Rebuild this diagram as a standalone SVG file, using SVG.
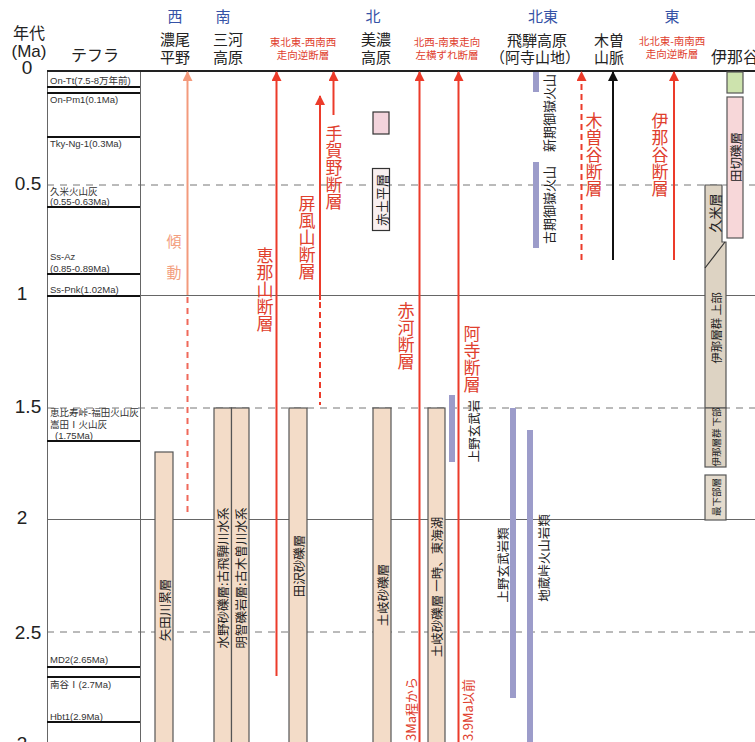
<svg xmlns="http://www.w3.org/2000/svg" width="755" height="742" viewBox="0 0 755 742">
  <style>
    .jp { font-family: "Noto Sans CJK JP", "Noto Sans", sans-serif; }
    .hd { font-family: "Noto Sans CJK JP", sans-serif; font-size: 15px; fill: #222; text-anchor: middle; }
    .dir { font-family: "Noto Sans CJK JP", sans-serif; font-size: 15px; fill: #3552a6; text-anchor: middle; }
    .rs { font-family: "Noto Sans CJK JP", sans-serif; font-size: 10.5px; fill: #e0402e; text-anchor: middle; }
    .ax { font-family: "Liberation Sans", "Noto Sans", sans-serif; font-size: 19px; fill: #222; text-anchor: middle; }
    .tp { font-family: "Liberation Sans", "Noto Sans CJK JP", sans-serif; font-size: 9.5px; fill: #333; }
    .tl { stroke: #111; stroke-width: 2.2; }
    .grid { stroke: #666; stroke-width: 1; fill: none; }
    .dash { stroke: #777; stroke-width: 1; stroke-dasharray: 7 6; fill: none; }
    .fm { fill: #f3dcc8; stroke: #555; stroke-width: 1.2; }
    .fl { font-family: "Noto Sans CJK JP", sans-serif; font-size: 12.5px; fill: #222; text-anchor: middle; dominant-baseline: central; }
    .vl { font-family: "Noto Sans CJK JP", sans-serif; font-size: 17px; fill: #e0402e; writing-mode: vertical-rl; }
    .red { stroke: #ec3b2a; stroke-width: 2; fill: none; }
    .redd { stroke: #ec3b2a; stroke-width: 2; stroke-dasharray: 6 4; fill: none; }
    .vol { stroke: #9c9cca; stroke-width: 6; }
  </style>
  <defs>
    <marker id="ah-red" viewBox="0 0 10 10" refX="9" refY="5" markerWidth="10" markerHeight="10" markerUnits="userSpaceOnUse" orient="auto">
      <path d="M0,0 L10,5 L0,10 z" fill="#ec3b2a"/>
    </marker>
    <marker id="ah-salmon" viewBox="0 0 10 10" refX="9" refY="5" markerWidth="10" markerHeight="10" markerUnits="userSpaceOnUse" orient="auto">
      <path d="M0,0 L10,5 L0,10 z" fill="#f39a7c"/>
    </marker>
    <marker id="ah-black" viewBox="0 0 10 10" refX="9" refY="5" markerWidth="10" markerHeight="10" markerUnits="userSpaceOnUse" orient="auto">
      <path d="M0,0 L10,5 L0,10 z" fill="#111"/>
    </marker>
  </defs>

  <rect width="755" height="742" fill="#fff"/>

  <!-- column headings -->
  <g id="headings">
    <text class="hd" x="29" y="39" style="font-size:16px">年代</text>
    <text class="ax" x="29" y="57" style="font-size:17px">(Ma)</text>
    <text class="hd" x="95" y="61" style="font-size:16px">テフラ</text>
    <text class="dir" x="175" y="22">西</text>
    <text class="hd" x="175" y="45">濃尾</text>
    <text class="hd" x="175" y="63">平野</text>
    <text class="dir" x="223" y="22">南</text>
    <text class="hd" x="228" y="45">三河</text>
    <text class="hd" x="228" y="63">高原</text>
    <text class="rs" x="303" y="46">東北東-西南西</text>
    <text class="rs" x="303" y="59">走向逆断層</text>
    <text class="dir" x="373" y="22">北</text>
    <text class="hd" x="376" y="45">美濃</text>
    <text class="hd" x="376" y="63">高原</text>
    <text class="rs" x="447" y="46">北西-南東走向</text>
    <text class="rs" x="447" y="59">左横ずれ断層</text>
    <text class="dir" x="543" y="22">北東</text>
    <text class="hd" x="537" y="46">飛騨高原</text>
    <text class="hd" x="535" y="63">（阿寺山地）</text>
    <text class="hd" x="609" y="46">木曽</text>
    <text class="hd" x="609" y="63">山脈</text>
    <text class="dir" x="672" y="22">東</text>
    <text class="rs" x="672" y="45">北北東-南南西</text>
    <text class="rs" x="672" y="58">走向逆断層</text>
    <text class="hd" x="711" y="63" style="text-anchor:start;font-size:16px">伊那谷</text>
  </g>

  <!-- age axis -->
  <g id="age-axis">
    <text class="ax" x="27" y="74">0</text>
    <text class="ax" x="28" y="190">0.5</text>
    <text class="ax" x="22" y="300">1</text>
    <text class="ax" x="28" y="413">1.5</text>
    <text class="ax" x="22" y="524">2</text>
    <text class="ax" x="28" y="639">2.5</text>
    <text class="ax" x="22" y="750">3</text>
  </g>

  <!-- time grid -->
  <g id="grid">
    <line class="dash" x1="47" y1="185" x2="755" y2="185"/>
    <line class="grid" x1="47" y1="295.5" x2="755" y2="295.5"/>
    <line class="dash" x1="47" y1="408" x2="755" y2="408"/>
    <line class="grid" x1="47" y1="519.5" x2="755" y2="519.5"/>
    <line class="dash" x1="47" y1="632" x2="755" y2="632"/>
    <line class="grid" x1="47.5" y1="71" x2="47.5" y2="742"/>
    <line class="grid" x1="140.5" y1="71" x2="140.5" y2="742"/>
    <line x1="47" y1="71" x2="755" y2="71" stroke="#222" stroke-width="2"/>
  </g>

  <!-- tephra column -->
  <g id="tephra">
    <text class="tp" x="50" y="84">On-Tt(7.5-8万年前)</text>
    <line class="tl" x1="47" y1="87" x2="140" y2="87"/>
    <line class="tl" x1="47" y1="93" x2="140" y2="93"/>
    <text class="tp" x="50" y="103">On-Pm1(0.1Ma)</text>
    <line class="tl" x1="47" y1="137" x2="140" y2="137"/>
    <text class="tp" x="50" y="147">Tky-Ng-1(0.3Ma)</text>
    <text class="tp" x="50" y="195">久米火山灰</text>
    <text class="tp" x="50" y="205">(0.55-0.63Ma)</text>
    <line class="tl" x1="47" y1="207" x2="140" y2="207"/>
    <text class="tp" x="50" y="260">Ss-Az</text>
    <text class="tp" x="50" y="272">(0.85-0.89Ma)</text>
    <line class="tl" x1="47" y1="274" x2="140" y2="274"/>
    <text class="tp" x="50" y="293">Ss-Pnk(1.02Ma)</text>
    <line class="tl" x1="47" y1="296" x2="140" y2="296"/>
    <text class="tp" x="50" y="416">恵比寿峠-福田火山灰</text>
    <text class="tp" x="50" y="428">嵩田Ⅰ火山灰</text>
    <text class="tp" x="55" y="439">(1.75Ma)</text>
    <line class="tl" x1="47" y1="441" x2="140" y2="441"/>
    <text class="tp" x="50" y="663">MD2(2.65Ma)</text>
    <line class="tl" x1="47" y1="667" x2="140" y2="667"/>
    <line class="tl" x1="47" y1="677" x2="140" y2="677"/>
    <text class="tp" x="50" y="688">南谷Ⅰ(2.7Ma)</text>
    <text class="tp" x="50" y="720">Hbt1(2.9Ma)</text>
    <line class="tl" x1="47" y1="722" x2="140" y2="722"/>
  </g>

  <!-- gravel formations -->
  <g id="yadagawa">
    <rect class="fm" x="155" y="452" width="18" height="300"/>
    <text class="fl" transform="translate(164,610) rotate(-90)">矢田川累層</text>
  </g>
  <g id="mizuno">
    <rect class="fm" x="214" y="408" width="17.5" height="340"/>
    <text class="fl" transform="translate(222.8,578) rotate(-90)">水野砂礫層:古飛騨川水系</text>
  </g>
  <g id="akechi">
    <rect class="fm" x="231.5" y="408" width="17.5" height="340"/>
    <text class="fl" transform="translate(240.3,578) rotate(-90)">明智礫岩層:古木曽川水系</text>
  </g>
  <g id="tazawa">
    <rect class="fm" x="289" y="408" width="18" height="340"/>
    <text class="fl" transform="translate(298,566) rotate(-90)">田沢砂礫層</text>
  </g>
  <g id="toki-1">
    <rect class="fm" x="373" y="408" width="18" height="340"/>
    <text class="fl" transform="translate(382,595) rotate(-90)">土岐砂礫層</text>
  </g>
  <g id="toki-2">
    <rect class="fm" x="428" y="408" width="17" height="340"/>
    <text class="fl" transform="translate(436.5,587) rotate(-90)">土岐砂礫層 一時、東海湖</text>
  </g>

  <!-- Mino plateau units -->
  <g id="mino-box">
    <rect x="373" y="112" width="16" height="22" fill="#f3d4dc" stroke="#333" stroke-width="1.2"/>
  </g>
  <g id="akadotaira">
    <rect x="372.5" y="168.5" width="17" height="62" fill="#f9f0f0" stroke="#333" stroke-width="1.2"/>
    <text class="fl" style="font-size:13px" transform="translate(381,200) rotate(-90)">赤土平層</text>
  </g>

  <!-- volcanic rocks -->
  <g id="shinki-ontake">
    <line class="vol" x1="536" y1="72" x2="536" y2="92"/>
    <text class="fl" style="font-size:13px" transform="translate(548,113) rotate(-90)">新期御嶽火山</text>
  </g>
  <g id="koki-ontake">
    <line class="vol" x1="536" y1="162" x2="536" y2="248"/>
    <text class="fl" style="font-size:13px" transform="translate(548,205) rotate(-90)">古期御嶽火山</text>
  </g>
  <g id="ueno-basalt">
    <line class="vol" x1="452" y1="395" x2="452" y2="462"/>
    <text class="fl" transform="translate(473,431) rotate(-90)">上野玄武岩</text>
  </g>
  <g id="ueno-basalts">
    <line class="vol" x1="513" y1="408" x2="513" y2="698"/>
    <text class="fl" transform="translate(502,565) rotate(-90)">上野玄武岩類</text>
  </g>
  <g id="jizotoge">
    <line class="vol" x1="530" y1="430" x2="530" y2="742"/>
    <text class="fl" transform="translate(543,558) rotate(-90)">地蔵峠火山岩類</text>
  </g>

  <!-- Ina valley column -->
  <g id="ina-top">
    <rect x="727" y="72" width="16" height="21" fill="#cde3ad" stroke="#555" stroke-width="1.2"/>
  </g>
  <g id="tagiri">
    <rect x="727" y="97" width="16" height="141" fill="#f7d7d9" stroke="#555" stroke-width="1.2"/>
    <text class="fl" transform="translate(735,157) rotate(-90)">田切礫層</text>
  </g>
  <g id="ina-upper">
    <path d="M705,185 H722 V242 H726 V408 H705 Z" fill="#ddd3c3" stroke="#555" stroke-width="1.2"/>
    <line x1="725" y1="242" x2="705" y2="268" stroke="#333" stroke-width="1.2"/>
    <text class="fl" style="font-size:13px" transform="translate(714,213) rotate(-90)">久米層</text>
    <text class="fl" style="font-size:11.5px" transform="translate(715.5,328) rotate(-90)">伊那層群 上部</text>
  </g>
  <g id="ina-lower">
    <rect x="705" y="408" width="21" height="59" fill="#ddd3c3" stroke="#555" stroke-width="1.2"/>
    <text class="fl" style="font-size:9.5px" transform="translate(715.5,437) rotate(-90)">伊那層群 下部</text>
  </g>
  <g id="ina-lowest">
    <rect x="705" y="475" width="21" height="45" fill="#e4dbcd" stroke="#555" stroke-width="1.2"/>
    <text class="fl" style="font-size:9.5px" transform="translate(715.5,497) rotate(-90)">最下部層</text>
  </g>

  <!-- faults and uplift arrows -->
  <g id="connectors">
    <line x1="187.5" y1="295" x2="187.5" y2="72" stroke="#f39a7c" stroke-width="2" marker-end="url(#ah-salmon)"/>
    <line x1="187.5" y1="297" x2="187.5" y2="512" stroke="#f0695a" stroke-width="2" stroke-dasharray="6 5"/>
    <line class="red" x1="276.5" y1="676" x2="276.5" y2="72" marker-end="url(#ah-red)"/>
    <line class="red" x1="320" y1="300" x2="320" y2="96" marker-end="url(#ah-red)"/>
    <line class="redd" x1="320" y1="302" x2="320" y2="405"/>
    <line class="red" x1="333.5" y1="115" x2="333.5" y2="72" marker-end="url(#ah-red)"/>
    <line class="red" x1="419.5" y1="742" x2="419.5" y2="72" marker-end="url(#ah-red)"/>
    <line class="red" x1="458.5" y1="742" x2="458.5" y2="72" marker-end="url(#ah-red)"/>
    <line class="redd" x1="581.5" y1="260" x2="581.5" y2="72" marker-end="url(#ah-red)"/>
    <line x1="613" y1="260" x2="613" y2="72" stroke="#111" stroke-width="2" marker-end="url(#ah-black)"/>
    <line class="red" x1="674" y1="260" x2="674" y2="72" marker-end="url(#ah-red)"/>
  </g>

  <!-- fault labels -->
  <g id="fault-labels">
    <text class="jp" x="174" y="0" fill="#f3a080" font-size="15" text-anchor="middle"><tspan x="174" y="247">傾</tspan><tspan x="174" y="278">動</tspan></text>
    <text class="vl" x="265" y="247">恵那山断層</text>
    <text class="vl" x="307" y="195">屏風山断層</text>
    <text class="vl" x="334" y="125">手賀野断層</text>
    <text class="vl" x="406" y="302">赤河断層</text>
    <text class="vl" x="472" y="325">阿寺断層</text>
    <text class="vl" x="594" y="112">木曽谷断層</text>
    <text class="vl" x="660" y="112">伊那谷断層</text>
    <text class="rs" style="font-size:13px;text-anchor:start;dominant-baseline:central" transform="translate(410,741) rotate(-90)">3Ma程から</text>
    <text class="rs" style="font-size:13px;text-anchor:start;dominant-baseline:central" transform="translate(467,741) rotate(-90)">3.9Ma以前</text>
  </g>
</svg>
